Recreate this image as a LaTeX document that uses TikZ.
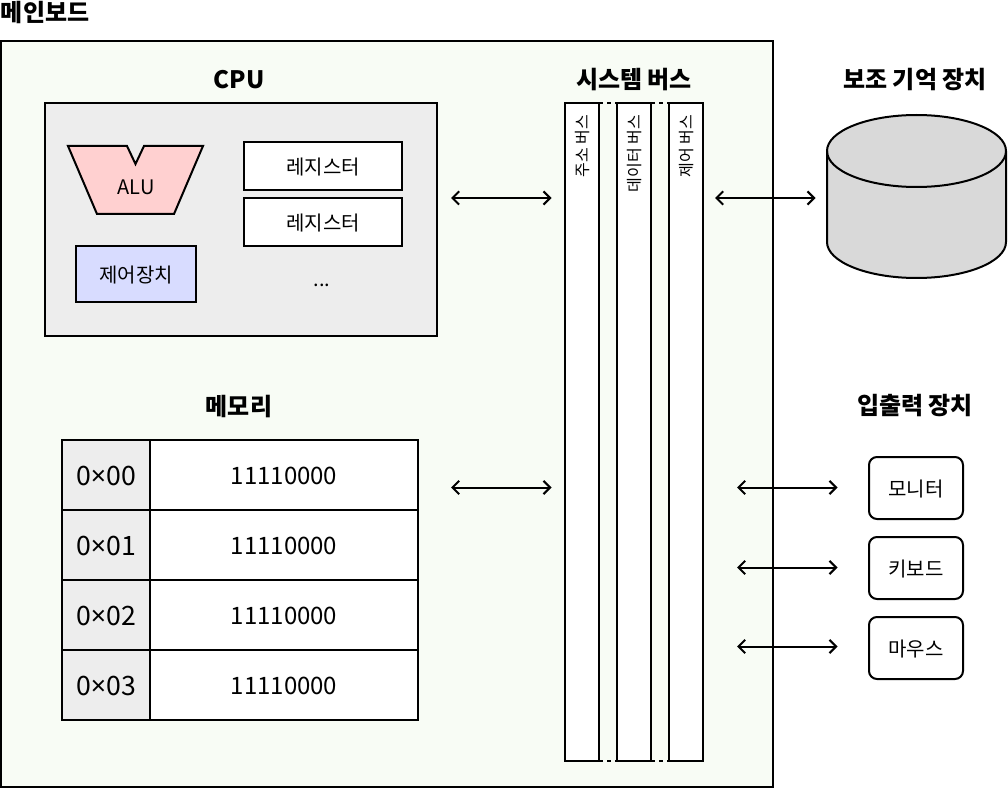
\documentclass[tikz,border=0pt]{standalone}
\usepackage{fontspec}
\usetikzlibrary{arrows.meta}
\setmainfont{Noto Sans CJK KR}
\newfontfamily\latinfont{Noto Sans}
\definecolor{boardbg}{HTML}{F8FCF5}
\definecolor{graybg}{HTML}{EDEDED}
\definecolor{alupink}{HTML}{FFD0D0}
\definecolor{ctrlblue}{HTML}{D8DCFF}
\definecolor{diskgray}{HTML}{D9D9D9}
\newcommand{\timessign}{{\latinfont ×}}
\begin{document}
\begin{tikzpicture}[x=0.75pt,y=-0.75pt,line width=1.5pt,
  box/.style={draw=black,line width=1.5pt,inner sep=0pt,outer sep=0pt,anchor=north west},
  title/.style={font=\fontsize{18pt}{22pt}\selectfont\bfseries,inner sep=0pt},
  lab/.style={font=\fontsize{15pt}{18pt}\selectfont,inner sep=0pt},
  memlab/.style={font=\fontsize{18pt}{22pt}\selectfont,inner sep=0pt},
  addrlab/.style={font=\fontsize{20pt}{24pt}\selectfont,inner sep=0pt},
  buslab/.style={font=\fontsize{12pt}{14pt}\selectfont,inner sep=0pt,rotate=90,anchor=east},
  biarrow/.style={draw=black,line width=1.5pt,{Straight Barb[length=5pt,width=10pt]}-{Straight Barb[length=5pt,width=10pt]}},
  busgap/.style={draw=black,line width=1.5pt,dash pattern=on 3pt off 3pt}]
\useasboundingbox (0,0) rectangle (1008,788);
\fill[white] (0,0) rectangle (1008,788);
\node[title,anchor=west] (tmain) at (0,13) {메인보드};
\node[box,fill=boardbg,minimum width=772.5*0.75pt,minimum height=746*0.75pt] (board) at (0.5,41) {};
\node[title] (tcpu) at (239,80) {CPU};
\node[box,fill=graybg,minimum width=392*0.75pt,minimum height=233*0.75pt] (cpu) at (45,103) {};
\draw[fill=alupink,line join=miter] (68,146) -- (127,146) -- (135.5,164) -- (144,146) -- (203,146) -- (174,214) -- (97,214) -- cycle;
\node[lab] (alu) at (136,187) {ALU};
\node[box,fill=white,minimum width=158*0.75pt,minimum height=48*0.75pt] (r1) at (244,142) {};
\node[lab] at ([yshift=-0.75pt]r1.center) {레지스터};
\node[box,fill=white,minimum width=158*0.75pt,minimum height=48*0.75pt] (r2) at (244,198) {};
\node[lab] at ([yshift=-0.75pt]r2.center) {레지스터};
\node[box,fill=ctrlblue,minimum width=120*0.75pt,minimum height=56*0.75pt] (ctrl) at (76,246) {};
\node[lab] at ([yshift=-0.75pt]ctrl.center) {제어장치};
\node[lab] (dots) at (322,285) {...};
\node[title] (tmem) at (239,407) {메모리};
\foreach \r/\y/\a/\b in {0/440/0/00,1/510/0/01,2/580/0/02,3/650/0/03}{
  \node[box,fill=graybg,minimum width=88*0.75pt,minimum height=70*0.75pt] (addr\r) at (62,\y) {};
  \node[addrlab] at ([yshift=-0.75pt]addr\r.center) {\a\timessign\b};
  \node[box,fill=white,minimum width=268*0.75pt,minimum height=70*0.75pt] (cell\r) at (150,\y) {};
  \node[memlab] at ([yshift=-0.75pt]cell\r.center) {11110000};
}
\node[title] (tbus) at (634,80) {시스템 버스};
\foreach \n/\x/\t in {a/565/주소 버스,d/617/데이터 버스,c/669/제어 버스}{
  \node[box,fill=white,minimum width=34*0.75pt,minimum height=658*0.75pt] (bus\n) at (\x,103) {};
  \node[buslab] at ([xshift=0.75pt,yshift=-11*0.75pt]bus\n.north) {\t};
}
\draw[busgap] (busa.north east) -- (busd.north west);
\draw[busgap] (busd.north east) -- (busc.north west);
\draw[busgap] (busa.south east) -- (busd.south west);
\draw[busgap] (busd.south east) -- (busc.south west);
\node[title] (tdisk) at (915,80) {보조 기억 장치};
\draw[fill=diskgray] (827,151) -- (827,242) arc[start angle=180,end angle=360,x radius=89.5,y radius=-36] -- (1006,151) arc[start angle=0,end angle=180,x radius=89.5,y radius=-36] -- cycle;
\draw (827,151) arc[start angle=180,end angle=360,x radius=89.5,y radius=-36];
\node[title] (tio) at (915,406) {입출력 장치};
\foreach \n/\y/\t in {m/457/모니터,k/537/키보드,o/617/마우스}{
  \node[box,fill=white,rounded corners=6pt,minimum width=94*0.75pt,minimum height=62*0.75pt] (dev\n) at (869,\y) {};
  \node[lab] at ([yshift=-0.75pt]dev\n.center) {\t};
}
\coordinate (a1l) at (451,198); \coordinate (a1r) at (551.5,198);
\coordinate (a2l) at (451,487.5); \coordinate (a2r) at (551.5,487.5);
\coordinate (a3l) at (715,198); \coordinate (a3r) at (815.5,198);
\coordinate (a4l) at (737,487.5); \coordinate (a4r) at (837.5,487.5);
\coordinate (a5l) at (737,567.5); \coordinate (a5r) at (837.5,567.5);
\coordinate (a6l) at (737,646.5); \coordinate (a6r) at (837.5,646.5);
\foreach \i in {1,...,6}{\draw[biarrow] (a\i l) -- (a\i r);}
\end{tikzpicture}
\end{document}
